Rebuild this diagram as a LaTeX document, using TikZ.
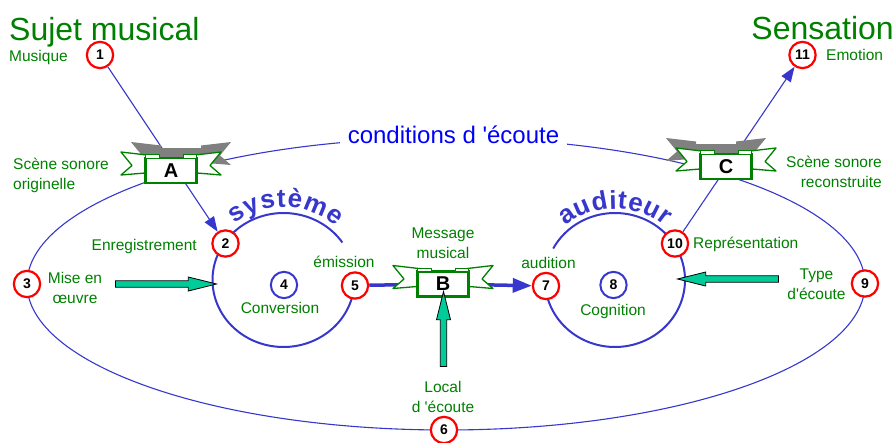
\documentclass[tikz,border=0pt]{standalone}
\usepackage{fontspec}
\newfontfamily\lsans{Liberation Sans}
\usetikzlibrary{arrows.meta,shapes.arrows}
\pgfdeclarelayer{bg}
\pgfsetlayers{bg,main}
\definecolor{tgreen}{RGB}{0,128,0}
\definecolor{lblue}{RGB}{55,55,205}
\definecolor{cblue}{RGB}{0,0,250}
\definecolor{tealf}{RGB}{0,204,153}
\definecolor{shadowgray}{RGB}{128,128,128}
\tikzset{
  wing/.style={draw=tgreen, line width=1.3pt, fill=white, line join=round},
  shadowfill/.style={fill=shadowgray},
  wings/.pic={
    \path[wing] (-20,-15) -- (-50,-18.5) -- (-39,-5) -- (-50,4.5) -- (-20,2) -- cycle;
    \path[wing] (20,-15) -- (50,-18.5) -- (39,-5) -- (50,4.5) -- (20,2) -- cycle;
  },
  gshadow/.pic={
    \fill[shadowfill] (-20,-15) -- (-50,-18.5) -- (-39,-5) -- (-50,4.5) -- (-20,2) -- cycle;
    \fill[shadowfill] (20,-15) -- (50,-18.5) -- (39,-5) -- (50,4.5) -- (20,2) -- cycle;
    \fill[shadowfill] (-25.5,-12.5) rectangle (25.5,12.5);
  },
  folds/.pic={
    \path[wing, line width=1pt] (-25.5,-16) -- (-12,-16) -- (-12,-12.5) -- (-25.5,-12.5) -- cycle;
    \path[wing, line width=1pt] (25.5,-16) -- (12,-16) -- (12,-12.5) -- (25.5,-12.5) -- cycle;
  }
}
\begin{document}
\begin{tikzpicture}[x=1pt,y=-1pt, font=\lsans,
  lbl/.style={text=tgreen, font=\lsans\fontsize{15.5}{20}\selectfont, inner sep=0pt, align=center},
  big/.style={text=tgreen, font=\lsans\fontsize{32}{36}\selectfont, inner sep=0pt},
  numc/.style={circle, draw=red, line width=2.2pt, fill=white, minimum size=26.3pt, inner sep=0pt, font=\lsans\bfseries\fontsize{14}{14}\selectfont},
  numb/.style={numc, draw=lblue, line width=2pt},
  thinl/.style={draw=lblue, line width=1.1pt},
  ringl/.style={draw=lblue, line width=2pt},
  bigl/.style={draw=lblue, line width=3.5pt},
  boxb/.style={draw=tgreen, line width=2.2pt, fill=white, minimum width=51pt, minimum height=25pt, inner sep=0pt, font=\lsans\bfseries\fontsize{20}{20}\selectfont},
  tarrow/.style={single arrow, draw=black, fill=tealf, line width=0.8pt, inner xsep=0pt, inner ysep=2.8pt, single arrow head extend=3.8pt, single arrow tip angle=28, minimum height=#1, text height=0pt, text depth=0pt},
  curv/.style={text=lblue, font=\lsans\bfseries\fontsize{26}{26}\selectfont, anchor=base, inner sep=0pt}
]
\useasboundingbox (0,0) rectangle (896,442);

% numbered circles
\node[numc] (c1) at (100,55) {1};
\node[numc] (c2) at (225.5,243.5) {2};
\node[numc] (c3) at (27,284) {3};
\node[numb] (c4) at (284,285) {4};
\node[numc] (c5) at (355,285.5) {5};
\node[numc] (c6) at (444,430) {6};
\node[numc] (c7) at (546,286) {7};
\node[numb] (c8) at (613.5,285) {8};
\node[numc] (c9) at (865,283.5) {9};
\node[numc] (c10) at (675,243.5) {10};
\node[numc] (c11) at (802.5,55) {11};

% connectors and rings (background)
\begin{pgfonlayer}{bg}
  \draw[thinl] (446,284) ellipse[x radius=419, y radius=146];
  \draw[thinl, -{Triangle[length=15pt,width=11pt]}] (c1) -- (c2);
  \draw[thinl, -{Triangle[length=15pt,width=11pt]}] (c10) -- (c11);
  \draw[ringl] plot[domain=5:326, samples=120] ({283.5+71*cos(\x)},{280+67*sin(\x)});
  \draw[ringl] plot[domain=208:534, samples=120] ({615+70*cos(\x)},{280+67*sin(\x)});
\end{pgfonlayer}

% banner shadows
\pic at (181,160.5) {gshadow};
\pic at (716,156.5) {gshadow};

% banners
\node[boxb, draw=none, fill=none] (B) at (443,284) {};
\begin{pgfonlayer}{bg}
  \draw[bigl] (c5) -- (B);
  \draw[bigl, -{Triangle[length=19pt,width=14pt]}] (B) -- (c7);
\end{pgfonlayer}
\pic at (171,170.5) {wings};
\pic at (443,284) {wings};
\pic at (726,166.5) {wings};
\node[boxb] (A) at (171,170.5) {A};
\node[boxb] (Bx) at (443,284) {B};
\node[boxb] (C) at (726,166.5) {C};
\pic at (171,170.5) {folds};
\pic at (443,284) {folds};
\pic at (726,166.5) {folds};

% teal arrows
\node[tarrow=101pt] (ta1) at (159.5,284) {};
\node[tarrow=101pt, rotate=180] (ta2) at (734.5,279) {};
\node[tarrow=75pt, rotate=90] (ta3) at (443.5,335.5) {};

% curved words
\foreach \ch/\an [count=\i] in {s/123.5, y/112.1, s/100.7, t/91.5, è/82.2, m/67.6, e/53.1}
  \node[curv, rotate=\an-90] (sy\i) at ({283.5+78*cos(\an)},{280-73*sin(\an)}) {\ch};
\foreach \ch/\an [count=\i] in {a/125, u/113.1, d/100.7, i/91.4, t/84.9, e/75.6, u/63.7, r/53.4}
  \node[curv, rotate=\an-90] (au\i) at ({615+76*cos(\an)},{280-71*sin(\an)}) {\ch};

% labels
\node[big, anchor=base west] (t1) at (9,40) {Sujet musical};
\node[big, anchor=base east] (t2) at (894,39) {Sensation};
\node[lbl, anchor=base west] (t3) at (9,61) {Musique};
\node[lbl, anchor=base west] (t4) at (826,60) {Emotion};
\node[lbl, anchor=base west, align=left] (t5) at (13,189) {Scène sonore\\originelle};
\node[lbl, anchor=base east, align=right] (t6) at (882,187) {Scène sonore\\reconstruite};
\node[lbl, anchor=base east] (t7) at (197,250) {Enregistrement};
\node[lbl, anchor=base] (t8) at (75,303) {Mise en\\œuvre};
\node[lbl, anchor=base] (t9) at (280,313) {Conversion};
\node[lbl, anchor=base] (t10) at (344,267) {émission};
\node[lbl, anchor=base] (t11) at (443,258) {Message\\musical};
\node[lbl, anchor=base] (t12) at (548.5,268) {audition};
\node[lbl, anchor=base] (t13) at (613,315) {Cognition};
\node[lbl, anchor=base west] (t14) at (693,248) {Représentation};
\node[lbl, anchor=base] (t15) at (816.5,299) {Type\\d'écoute};
\node[lbl, anchor=base] (t16) at (443,412) {Local\\d 'écoute};
\node[text=cblue, font=\lsans\fontsize{24}{24}\selectfont, fill=white, anchor=base, inner xsep=8pt, inner ysep=3pt] (t17) at (453.5,143) {conditions d 'écoute};
\end{tikzpicture}
\end{document}
